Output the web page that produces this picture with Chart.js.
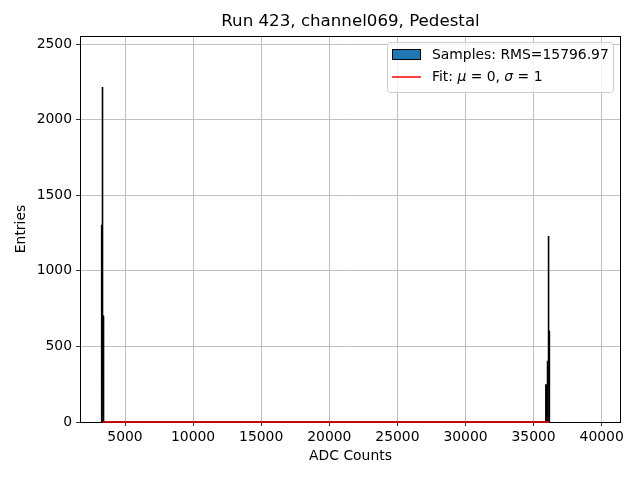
<!DOCTYPE html>
<html>
<head>
<meta charset="utf-8">
<script src="https://cdn.jsdelivr.net/npm/chart.js@4.4.1/dist/chart.umd.min.js"></script>
<style>
  body { margin: 0; background: #fff; }
  canvas { display: block; }
</style>
</head>
<body>
<canvas id="histChart" width="640" height="480"></canvas>
<script>
// histogram data (ADC counts)
const binWidth = 15;
const peak1Start = 3270;
const peak1Counts = [100, 600, 1300, 1800, 2215, 1900, 1400, 700, 200, 0, 0, 150, 0];
const peak2Start = 35900;
const peak2Counts = [245, 0, 0, 0, 0, 0, 0, 0, 0, 80, 400, 800, 1100, 1230, 1000, 600, 200, 0];

// fit curve (mu = 0, sigma = 1 -> flat at zero over the data range)
const fitX = [3370, 36150];
const fitY = [0, 0];

const xTicks = [5000, 10000, 15000, 20000, 25000, 30000, 35000, 40000];
const yTicks = [0, 500, 1000, 1500, 2000, 2500];

const titleText = 'Run 423, channel069, Pedestal';
const sampleLabel = 'Samples: RMS=15796.97';

const FONT = 'DejaVu Sans';

// step outline of the histogram
function histPoints() {
    const pts = [];
    const addPeak = (start, counts) => {
        pts.push({ x: start, y: 0 });
        counts.forEach((c, i) => {
            pts.push({ x: start + i * binWidth, y: c });
            pts.push({ x: start + (i + 1) * binWidth, y: c });
        });
        pts.push({ x: start + counts.length * binWidth, y: 0 });
    };
    addPeak(peak1Start, peak1Counts);
    addPeak(peak2Start, peak2Counts);
    return pts;
}

const fitPoints = fitX.map((x, i) => ({ x: x, y: fitY[i] }));

// black frame on all four sides (under the data, like the red fit over the spine)
const framePlugin = {
    id: 'frame',
    beforeDatasetsDraw(chart) {
        const a = chart.chartArea;
        const ctx = chart.ctx;
        ctx.save();
        ctx.strokeStyle = '#000';
        ctx.lineWidth = 1;
        ctx.strokeRect(Math.round(a.left) + 0.5, Math.round(a.top) + 0.5,
            Math.round(a.right - a.left) - 1, Math.round(a.bottom - a.top));
        ctx.restore();
    }
};

// matplotlib-style legend inside the axes
const legendPlugin = {
    id: 'mplLegend',
    afterDraw(chart) {
        const ctx = chart.ctx;
        const a = chart.chartArea;
        const w = 226, h = 50;
        const x0 = a.right - 8 - w, y0 = a.top + 6;
        ctx.save();
        ctx.beginPath();
        ctx.roundRect(x0 + 0.5, y0 + 0.5, w, h, 3);
        ctx.fillStyle = 'rgba(255,255,255,0.8)';
        ctx.fill();
        ctx.strokeStyle = '#cccccc';
        ctx.lineWidth = 1;
        ctx.stroke();

        // patch entry
        ctx.fillStyle = '#1f77b4';
        ctx.fillRect(x0 + 5.5, y0 + 7.5, 28, 10);
        ctx.strokeStyle = '#000';
        ctx.strokeRect(x0 + 5.5, y0 + 7.5, 28, 10);

        ctx.fillStyle = '#000';
        ctx.textBaseline = 'middle';
        ctx.textAlign = 'left';
        ctx.font = '13.9px "' + FONT + '"';
        ctx.fillText(sampleLabel, x0 + 45, y0 + 13);

        // line entry
        ctx.strokeStyle = 'red';
        ctx.lineWidth = 1.5;
        ctx.beginPath();
        ctx.moveTo(x0 + 5, y0 + 35);
        ctx.lineTo(x0 + 34, y0 + 35);
        ctx.stroke();

        const parts = [
            ['Fit: ', false], ['\u03bc', true], [' = 0, ', false], ['\u03c3', true], [' = 1', false]
        ];
        let tx = x0 + 45;
        parts.forEach(p => {
            ctx.font = (p[1] ? 'italic ' : '') + '13.9px "' + FONT + '"';
            ctx.fillText(p[0], tx, y0 + 35);
            tx += ctx.measureText(p[0]).width;
        });
        ctx.restore();
    }
};

const ctx = document.getElementById('histChart').getContext('2d');

new Chart(ctx, {
    type: 'scatter',
    data: {
        datasets: [
            {
                label: 'Fit',
                data: fitPoints,
                showLine: true,
                borderColor: '#ff0000',
                borderWidth: 1.5,
                pointRadius: 0,
                clip: false,
                order: 0
            },
            {
                label: sampleLabel,
                data: histPoints(),
                showLine: true,
                borderColor: '#000',
                backgroundColor: '#1f77b4',
                borderWidth: 1.6,
                fill: 'origin',
                pointRadius: 0,
                tension: 0,
                order: 1
            }
        ]
    },
    options: {
        responsive: false,
        animation: false,
        layout: { padding: { left: 0, right: 19, top: 0, bottom: 0 } },
        plugins: {
            legend: { display: false },
            tooltip: { enabled: false },
            title: {
                display: true,
                text: titleText,
                fullSize: false,
                color: '#000',
                font: { family: FONT, size: 16.67, weight: 'normal' },
                padding: { top: 12, bottom: 4 }
            }
        },
        scales: {
            x: {
                type: 'linear',
                min: 1696,
                max: 41417,
                afterBuildTicks: s => { s.ticks = xTicks.map(v => ({ value: v })); },
                afterFit: s => { s.height = 58; },
                border: { display: false },
                grid: { color: '#b0b0b0', lineWidth: 0.8, tickColor: '#000', tickLength: 4 },
                ticks: {
                    color: '#000',
                    font: { family: FONT, size: 13.9 },
                    padding: 3,
                    maxRotation: 0,
                    callback: v => String(v)
                },
                title: {
                    display: true,
                    text: 'ADC Counts',
                    color: '#000',
                    font: { family: FONT, size: 13.9 },
                    padding: { top: 0, bottom: 15 }
                }
            },
            y: {
                type: 'linear',
                min: 0,
                max: 2553,
                afterBuildTicks: s => { s.ticks = yTicks.map(v => ({ value: v })); },
                afterFit: s => { s.width = 80; },
                border: { display: false },
                grid: { color: '#b0b0b0', lineWidth: 0.8, tickColor: '#000', tickLength: 4 },
                ticks: {
                    color: '#000',
                    font: { family: FONT, size: 13.9 },
                    padding: 4,
                    callback: v => String(v)
                },
                title: {
                    display: true,
                    text: 'Entries',
                    color: '#000',
                    font: { family: FONT, size: 13.9 },
                    padding: { top: 13, bottom: 0 }
                }
            }
        }
    },
    plugins: [framePlugin, legendPlugin]
});
</script>
</body>
</html>
